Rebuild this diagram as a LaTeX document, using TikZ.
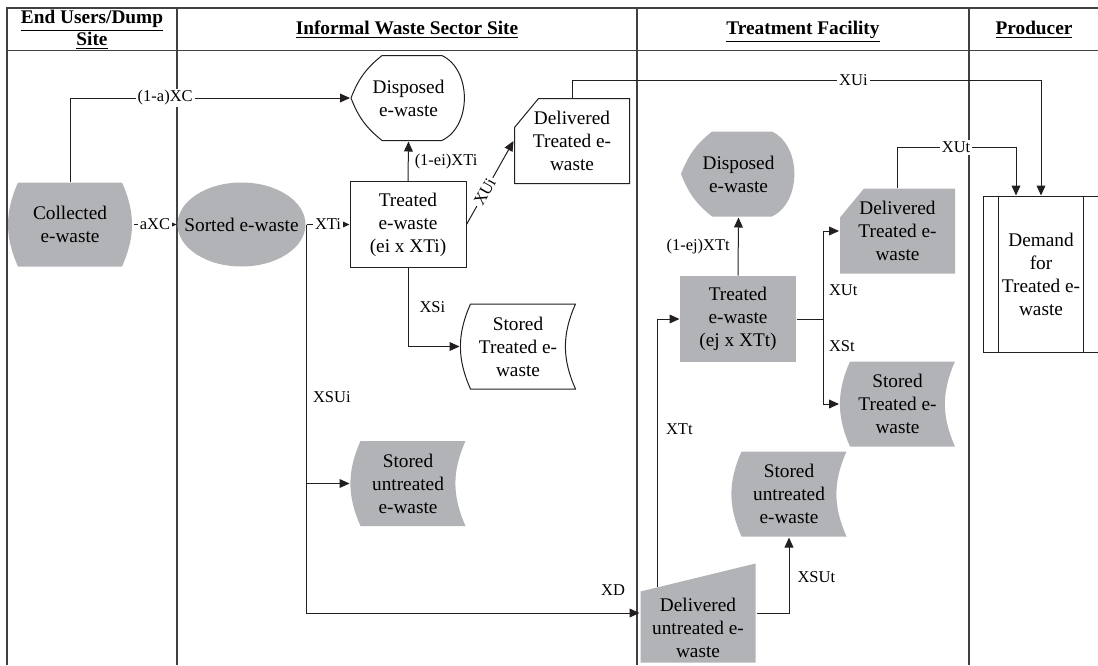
\documentclass[tikz,border=0pt]{standalone}
\usepackage{fontspec}
\setmainfont{Liberation Serif}
\usetikzlibrary{arrows.meta,calc}

\definecolor{ewgray}{RGB}{178,179,183}
\definecolor{ewline}{RGB}{35,31,32}

\begin{document}
\begin{tikzpicture}[x=0.5pt,y=-0.5pt,line width=0.5pt,
    every node/.style={inner sep=0pt,align=center},
    txt/.style={font=\fontsize{9.65}{11.5}\selectfont},
    hdr/.style={font=\fontsize{9.65}{11}\selectfont\bfseries},
    lab/.style={font=\fontsize{8.25}{9}\selectfont,inner sep=1pt,fill=white},
    arr/.style={draw=ewline,-{Triangle[length=5pt,width=4.4pt]}},
    arrsmall/.style={draw=ewline,-{Triangle[length=3.2pt,width=2.8pt]}},
    frame/.style={draw=black!75,line width=0.75pt},
    blk/.style={txt,minimum width=58pt,minimum height=43pt},
    oval/.style={blk,path picture={\path[#1] let \p1=(path picture bounding box.center),
        \p2=(path picture bounding box.north east) in
        (\p1) ellipse [x radius={\x2-\x1-0.25pt},y radius={\y2-\y1-0.25pt}];}},
    barrel/.style={blk,path picture={\path[#1] let \p1=($(path picture bounding box.north west)+(0.5,0.5)$),
        \p2=($(path picture bounding box.south east)+(-0.5,-0.5)$) in
        (\x1+5.25pt,\y1) -- (\x2-5.25pt,\y1) to[bend left=24] (\x2-5.25pt,\y2)
        -- (\x1+5.25pt,\y2) to[bend left=24] (\x1+5.25pt,\y1) -- cycle;}},
    display/.style={blk,path picture={\path[#1] let \p1=($(path picture bounding box.north west)+(0.5,0.5)$),
        \p2=($(path picture bounding box.south east)+(-0.5,-0.5)$),
        \p3=(path picture bounding box.center),
        \p4=($(\p1)!0.27!(\p2)$), \p5=($(\p1)!0.79!(\p2)$) in
        (\x1,\y3) to[bend left=15] (\x4,\y1) -- (\x5,\y1) to[bend left=65] (\x5,\y2)
        -- (\x4,\y2) to[bend left=15] (\x1,\y3) -- cycle;}},
    card/.style={blk,path picture={\path[#1] let \p1=($(path picture bounding box.north west)+(0.5,0.5)$),
        \p2=($(path picture bounding box.south east)+(-0.5,-0.5)$) in
        (\x1+12pt,\y1) -- (\x2,\y1) -- (\x2,\y2) -- (\x1,\y2) -- (\x1,\y1-14.5pt) -- cycle;}},
    stored/.style={blk,path picture={\path[#1] let \p1=($(path picture bounding box.north west)+(0.5,0.5)$),
        \p2=($(path picture bounding box.south east)+(-0.5,-0.5)$) in
        (\x1+5pt,\y1) -- (\x2,\y1) to[bend right=24] (\x2,\y2)
        -- (\x1+5pt,\y2) to[bend left=24] (\x1+5pt,\y1) -- cycle;}},
    manual/.style={blk,path picture={\path[#1] let \p1=($(path picture bounding box.north west)+(0.5,0.5)$),
        \p2=($(path picture bounding box.south east)+(-0.5,-0.5)$) in
        (\x1,\y2) -- (\x2,\y2) -- (\x2,\y1) -- (\x1,\y1-14pt) -- cycle;}},
    predef/.style={blk,path picture={\path[#1] let \p1=($(path picture bounding box.north west)+(0.5,0.5)$),
        \p2=($(path picture bounding box.south east)+(-0.5,-0.5)$) in
        (\x1,\y1) rectangle (\x2,\y2) (\x1+7.5pt,\y1) -- (\x1+7.5pt,\y2)
        (\x2-7.5pt,\y1) -- (\x2-7.5pt,\y2);}}]
  \useasboundingbox (0,0) rectangle (1098,665);

  % swim lanes
  \draw[frame] (7,665) -- (7,8) -- (1098,8) (7,50.7) -- (1098,50.7)
    (177,8) -- (177,665) (637,8) -- (637,665) (969,8) -- (969,665);
  \node[hdr] (hdend) at (92,30) {\underline{End Users/Dump}\\\underline{Site}};
  \node[hdr,anchor=base] (hdinf) at (407,34) {\underline{Informal Waste Sector Site}};
  \node[hdr,anchor=base] (hdtrt) at (803,34) {\underline{Treatment Facility}};
  \node[hdr,anchor=base] (hdpro) at (1034,34) {\underline{Producer}};

  % informal sector
  \node[barrel={fill=ewgray},minimum width=63pt,minimum height=42.5pt] (coll) at (70,224.5) {Collected\\e-waste};
  \node[oval={fill=ewgray},minimum width=64.5pt,minimum height=42.5pt] (sort) at (241.5,224.5) {Sorted e-waste};
  \node[blk,draw=ewline,fill=white] (trti) at (408,224.5) {Treated\\e-waste\\(ei x XTi)};
  \node[display={draw=ewline,fill=white}] (dispi) at (408.5,98) {Disposed\\e-waste};
  \node[card={draw=ewline,fill=white}] (delti) at (572,141) {Delivered\\Treated e-\\waste};
  \node[stored={draw=ewline,fill=white}] (stti) at (518,346.5) {Stored\\Treated e-\\waste};
  \node[stored={fill=ewgray}] (stui) at (408,483.5) {Stored\\untreated\\e-waste};

  % treatment facility
  \node[manual={fill=ewgray},minimum height=50pt,
    label={[txt,yshift=-7.5pt]center:{Delivered\\untreated e-\\waste}}] (deliu) at (698,613) {};
  \node[blk,fill=ewgray] (trtt) at (738,319) {Treated\\e-waste\\(ej x XTt)};
  \node[display={fill=ewgray}] (dispt) at (738.5,174) {Disposed\\e-waste};
  \node[card={fill=ewgray}] (deltt) at (897.5,231) {Delivered\\Treated e-\\waste};
  \node[stored={fill=ewgray}] (sttt) at (897.5,404) {Stored\\Treated e-\\waste};
  \node[stored={fill=ewgray}] (stut) at (789,494) {Stored\\untreated\\e-waste};

  % producer
  \node[predef={draw=ewline,fill=white},minimum height=78.5pt] (dem) at (1041,274.5) {Demand\\for\\Treated e-\\waste};

  % flows
  \draw[arr] (coll.north) |- node[lab,pos=0.67] {(1-a)XC} (dispi.west);
  \draw[arrsmall] (coll.east) -- node[lab] {aXC} (sort.west);
  \draw[arrsmall] (sort.east) -- node[lab] {XTi} (trti.west);
  \draw[arr] (sort.east) |- node[lab,pos=0.222,right=2pt] {XSUi}
    node[lab,pos=1,anchor=south east,shift={(-12,-15)}] {XD} (deliu.west);
  \draw[arr] (sort.east) |- (stui.west);
  \draw[arr] (trti.north) -- node[lab,right=2pt] {(1-ei)XTi} (dispi.south);
  \draw[arr] (trti.east) -- node[lab,sloped,pos=0.39] {XUi} (delti.west);
  \draw[arr] (trti.south) |- node[lab,pos=0.25,right=4.5pt] {XSi} (stti.west);
  \draw[arr] (delti.north) -- ++(0,-17) -| node[lab,pos=0.3] {XUi} (dem.north);

  \coordinate (xtt) at ($(deliu.north west)+(18,24)$);
  \draw[arr] (xtt) |- node[lab,pos=0.295,right=3pt] {XTt} (trtt.west);
  \draw[arr] (deliu.east) -| node[lab,pos=0.737,right=3pt] {XSUt} (stut.south);
  \draw[arr] (trtt.north) -- node[lab,left=3pt] {(1-ej)XTt} (dispt.south);
  \coordinate (trtbr) at ($(trtt.east)+(27,0)$);
  \draw[ewline] (trtt.east) -- (trtbr);
  \draw[arr] (trtbr) |- node[lab,pos=0.165,right=1.5pt] {XUt} (deltt.west);
  \draw[arr] (trtbr) |- node[lab,pos=0.16,right=1.5pt] {XSt} (sttt.west);
  \draw[arr] (deltt.north) -- ++(0,-40) -| node[lab,pos=0.247] {XUt} ($(dem.north)+(-25,0)$);
\end{tikzpicture}
\end{document}
